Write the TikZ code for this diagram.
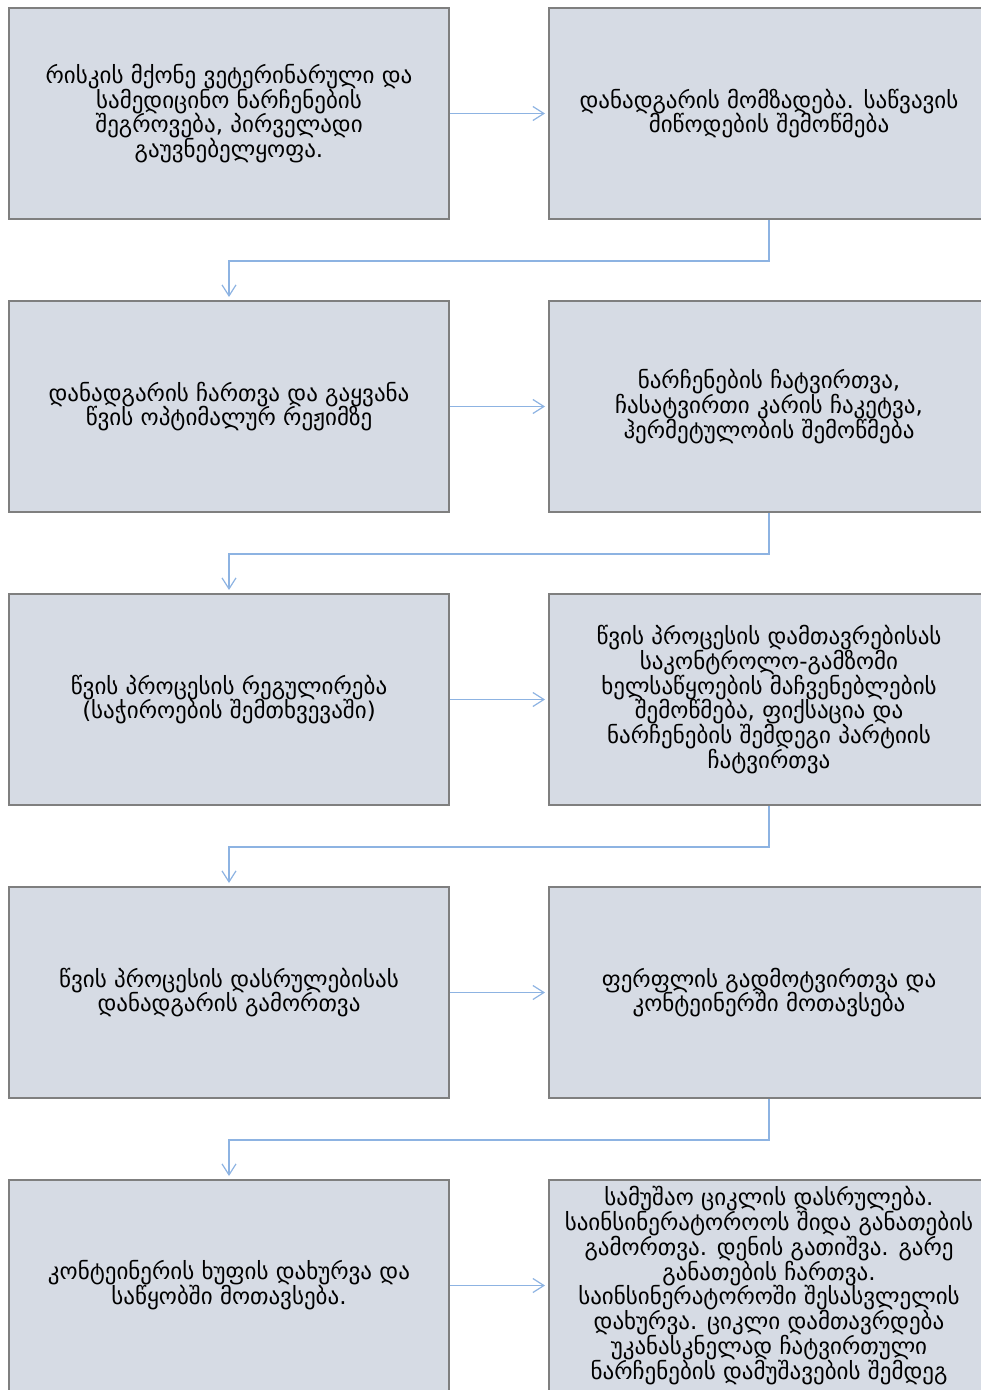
\documentclass[tikz,border=0pt]{standalone}
\usepackage{fontspec}
\setmainfont{DejaVu Sans}
\usetikzlibrary{arrows.meta,positioning}
\definecolor{boxfill}{HTML}{D6DBE4}
\definecolor{boxline}{HTML}{7F7F7F}
\definecolor{flowline}{HTML}{8DB3E2}

\begin{document}
\begin{tikzpicture}[
        stage/.style={draw=boxline, line width=1pt, fill=boxfill,
            minimum width=220pt, minimum height=105.5pt, inner sep=0pt,
            align=center, font=\fontsize{11.5}{12.4}\selectfont},
        flow/.style={draw=flowline, line width=0.6pt,
            -{Straight Barb[length=5.5pt,width=7pt]}},
        node distance=40pt and 49pt]
        \useasboundingbox (0,0) rectangle (490pt,-695pt);
        \node[stage, anchor=north west] (collect) at (4pt,-3.5pt) {რისკის მქონე ვეტერინარული და\\სამედიცინო ნარჩენების\\შეგროვება, პირველადი\\გაუვნებელყოფა.};
        \node[stage] (prepare) [right=of collect] {დანადგარის მომზადება. საწვავის\\მიწოდების შემოწმება};
        \node[stage] (switch on) [below=of collect] {დანადგარის ჩართვა და გაყვანა\\წვის ოპტიმალურ რეჟიმზე};
        \node[stage] (load) [right=of switch on] {ნარჩენების ჩატვირთვა,\\ჩასატვირთი კარის ჩაკეტვა,\\ჰერმეტულობის შემოწმება};
        \node[stage] (regulate) [below=of switch on] {წვის პროცესის რეგულირება\\(საჭიროების შემთხვევაში)};
        \node[stage] (check) [right=of regulate] {წვის პროცესის დამთავრებისას\\საკონტროლო-გამზომი\\ხელსაწყოების მაჩვენებლების\\შემოწმება, ფიქსაცია და\\ნარჩენების შემდეგი პარტიის\\ჩატვირთვა};
        \node[stage] (switch off) [below=of regulate] {წვის პროცესის დასრულებისას\\დანადგარის გამორთვა};
        \node[stage] (unload) [right=of switch off] {ფერფლის გადმოტვირთვა და\\კონტეინერში მოთავსება};
        \node[stage] (store) [below=of switch off] {კონტეინერის ხუფის დახურვა და\\საწყობში მოთავსება.};
        \node[stage] (finish) [right=of store] {სამუშაო ციკლის დასრულება.\\საინსინერატოროოს შიდა განათების\\გამორთვა. დენის გათიშვა. გარე\\განათების ჩართვა.\\საინსინერატოროში შესასვლელის\\დახურვა. ციკლი დამთავრდება\\უკანასკნელად ჩატვირთული\\ნარჩენების დამუშავების შემდეგ};
        \draw[flow, shorten >=1.5pt] (collect) -- (prepare);
        \draw[flow, shorten >=1.5pt] (switch on) -- (load);
        \draw[flow, shorten >=1.5pt] (regulate) -- (check);
        \draw[flow, shorten >=1.5pt] (switch off) -- (unload);
        \draw[flow, shorten >=1.5pt] (store) -- (finish);
        \draw[flow, shorten >=1.5pt] (prepare.south) -- ++(0,-20.5pt) -| (switch on.north);
        \draw[flow, shorten >=1.5pt] (load.south) -- ++(0,-20.5pt) -| (regulate.north);
        \draw[flow, shorten >=1.5pt] (check.south) -- ++(0,-20.5pt) -| (switch off.north);
        \draw[flow, shorten >=1.5pt] (unload.south) -- ++(0,-20.5pt) -| (store.north);
\end{tikzpicture}
\end{document}
